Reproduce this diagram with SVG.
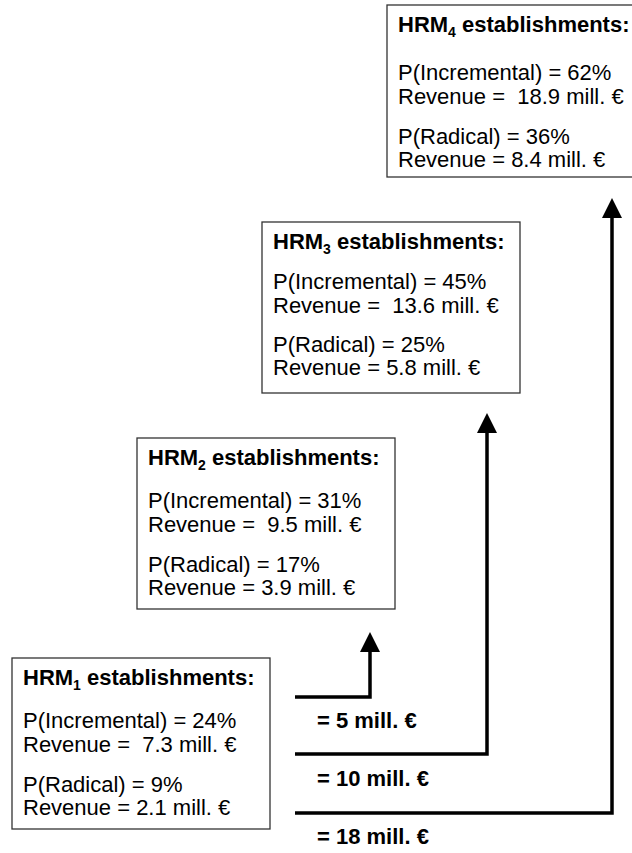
<svg xmlns="http://www.w3.org/2000/svg" width="632" height="853" viewBox="0 0 632 853">
<defs>
<style>
.box{fill:#fff;stroke:#333;stroke-width:1.3}
.t{font-family:"Liberation Sans",Arial,sans-serif;font-size:22px;fill:#000}
.b{font-weight:bold}
.sub{font-size:14px}
.conn{fill:none;stroke:#000;stroke-width:3.5;stroke-linejoin:miter}
</style>
<marker id="ah" viewBox="0 0 20 20" refX="0" refY="10" markerWidth="20" markerHeight="20" markerUnits="userSpaceOnUse" orient="auto">
<path d="M0,0 L20,10 L0,20 z" fill="#000"/>
</marker>
</defs>
<g id="connectors">
<path class="conn" d="M295,697 H370 V652" marker-end="url(#ah)"/>
<path class="conn" d="M295,754 H487 V433" marker-end="url(#ah)"/>
<path class="conn" d="M295,813 H612 V218" marker-end="url(#ah)"/>
<text class="t b" x="317" y="728">= 5 mill. €</text>
<text class="t b" x="317" y="786">= 10 mill. €</text>
<text class="t b" x="317" y="844">= 18 mill. €</text>
</g>
<g id="hrm1">
<rect class="box" x="12" y="658" width="258" height="171"/>
<text class="t b" x="23" y="685">HRM<tspan class="sub" dy="5">1</tspan><tspan dy="-5"> establishments:</tspan></text>
<text class="t" x="23" y="728">P(Incremental) = 24%</text>
<text class="t" x="23" y="752" xml:space="preserve">Revenue =  7.3 mill. €</text>
<text class="t" x="23" y="792">P(Radical) = 9%</text>
<text class="t" x="23" y="815">Revenue = 2.1 mill. €</text>
</g>
<g id="hrm2">
<rect class="box" x="137" y="438" width="258" height="171"/>
<text class="t b" x="148" y="465">HRM<tspan class="sub" dy="5">2</tspan><tspan dy="-5"> establishments:</tspan></text>
<text class="t" x="148" y="508">P(Incremental) = 31%</text>
<text class="t" x="148" y="532" xml:space="preserve">Revenue =  9.5 mill. €</text>
<text class="t" x="148" y="572">P(Radical) = 17%</text>
<text class="t" x="148" y="595">Revenue = 3.9 mill. €</text>
</g>
<g id="hrm3">
<rect class="box" x="262" y="222" width="258" height="171"/>
<text class="t b" x="273" y="249">HRM<tspan class="sub" dy="5">3</tspan><tspan dy="-5"> establishments:</tspan></text>
<text class="t" x="273" y="289">P(Incremental) = 45%</text>
<text class="t" x="273" y="313" xml:space="preserve">Revenue =  13.6 mill. €</text>
<text class="t" x="273" y="352">P(Radical) = 25%</text>
<text class="t" x="273" y="375">Revenue = 5.8 mill. €</text>
</g>
<g id="hrm4">
<rect class="box" x="387" y="5" width="258" height="172"/>
<text class="t b" x="398" y="32">HRM<tspan class="sub" dy="5">4</tspan><tspan dy="-5"> establishments:</tspan></text>
<text class="t" x="398" y="80">P(Incremental) = 62%</text>
<text class="t" x="398" y="104" xml:space="preserve">Revenue =  18.9 mill. €</text>
<text class="t" x="398" y="144">P(Radical) = 36%</text>
<text class="t" x="398" y="167">Revenue = 8.4 mill. €</text>
</g>
</svg>
